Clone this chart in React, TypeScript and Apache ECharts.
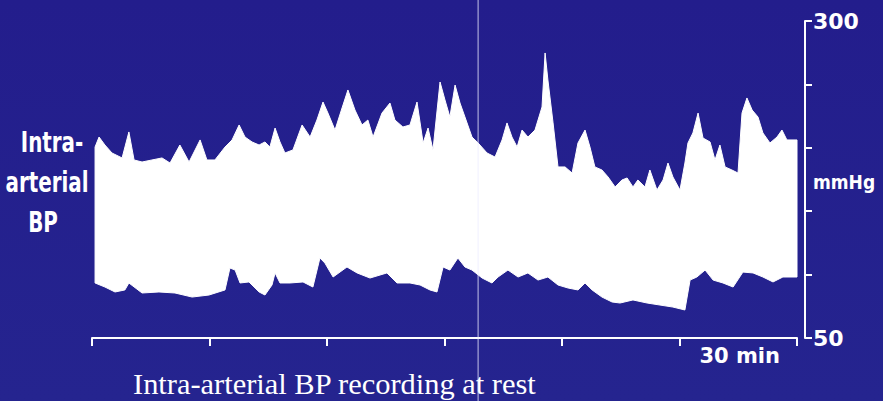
import React, { useEffect, useRef } from "react";
import * as echarts from "echarts";

// Systolic trace (upper edge of the white band): time in minutes, pressure in mmHg
const sysTime = [
  0.13, 0.3, 0.55, 0.85, 1.28, 1.57, 1.79, 2.13, 2.55, 2.98, 3.32, 3.74, 4.13, 4.6, 4.89, 5.23,
  5.66, 5.96, 6.26, 6.51, 6.81, 7.11, 7.36, 7.57, 7.79, 8.0, 8.21, 8.55, 8.94, 9.28, 9.57, 9.83,
  10.04, 10.34, 10.64, 10.89, 11.19, 11.49, 11.74, 11.96, 12.34, 12.68, 12.89, 13.23, 13.53, 13.83,
  14.09, 14.3, 14.51, 14.81, 15.02, 15.23, 15.45, 15.66, 15.87, 16.17, 16.43, 16.81, 17.15, 17.45,
  17.66, 17.87, 18.09, 18.3, 18.55, 18.85, 19.15, 19.28, 19.4, 19.62, 19.83, 20.13, 20.43, 20.68,
  20.98, 21.19, 21.4, 21.7, 21.96, 22.26, 22.55, 22.77, 23.02, 23.23, 23.53, 23.74, 24.04, 24.3,
  24.51, 24.72, 25.02, 25.23, 25.36, 25.57, 25.79, 26.0, 26.3, 26.51, 26.72, 26.94, 27.23, 27.49,
  27.66, 27.87, 28.09, 28.34, 28.55, 28.85, 29.15, 29.36, 29.57, 29.83, 30.0,
];
const sysValue = [
  200.6, 208.5, 202.2, 195.9, 192.0, 212.5, 190.4, 188.8, 190.4, 192.0, 188.0, 202.2, 188.8, 206.2, 190.4, 190.4,
  200.6, 206.2, 218.0, 208.5, 204.6, 202.2, 204.6, 200.6, 215.6, 204.6, 195.9, 198.3, 218.0, 208.5, 221.9, 236.1,
  227.4, 214.0, 231.4, 245.6, 229.8, 218.0, 221.9, 208.5, 227.4, 235.3, 221.9, 216.4, 218.0, 236.1,
  203.8, 215.6, 198.3, 251.9, 237.7, 224.3, 249.5, 235.3, 224.3, 208.5, 203.8, 195.9, 192.7, 206.2,
  219.6, 208.5, 200.6, 214.0, 208.5, 214.0, 232.2, 274.8, 253.5, 219.6, 184.9, 184.9, 180.1, 203.8,
  214.0, 200.6, 184.9, 182.5, 177.0, 169.1, 174.6, 176.2, 169.1, 174.6, 169.1, 182.5, 166.7, 174.6,
  188.0, 177.0, 166.7, 188.0, 203.8, 211.7, 227.4, 207.7, 204.6, 190.4, 202.2, 184.9, 182.5, 180.1,
  227.4, 239.3, 229.8, 224.3, 211.7, 203.8, 208.5, 214.0, 206.2, 206.2, 206.2,
];

// Diastolic trace (lower edge of the white band)
const diaTime = [
  0.13, 0.55, 0.98, 1.4, 1.57, 2.13, 2.85, 3.53, 4.26, 4.98, 5.66, 5.87, 6.09, 6.3, 6.68, 7.11,
  7.36, 7.66, 7.79, 8.0, 8.43, 8.98, 9.4, 9.7, 9.91, 10.26, 10.85, 11.28, 11.83, 12.55, 12.98,
  13.53, 13.96, 14.38, 14.68, 14.94, 15.23, 15.57, 15.87, 16.17, 16.6, 17.02, 17.28, 17.7, 18.13,
  18.55, 18.98, 19.4, 19.83, 20.26, 20.68, 20.98, 21.28, 21.7, 22.13, 22.47, 23.02, 23.62, 24.17,
  24.72, 25.23, 25.45, 25.74, 26.09, 26.43, 26.85, 27.28, 27.7, 28.13, 28.55, 28.98, 29.4, 29.83, 30.0,
];
const diaValue = [
  93.4, 90.2, 86.3, 87.9, 93.4, 85.5, 86.3, 85.5, 82.3, 83.9, 87.9, 105.2, 103.6, 93.4, 94.2, 86.3,
  83.9, 91.8, 101.3, 93.4, 93.4, 94.2, 90.2, 113.1, 109.1, 98.1, 106.0, 101.3, 97.3, 101.3, 93.4,
  93.4, 91.8, 87.9, 86.3, 106.0, 103.6, 113.1, 106.0, 103.6, 97.3, 93.4, 98.1, 103.6, 98.1,
  101.3, 95.7, 98.1, 91.8, 89.4, 87.9, 93.4, 87.9, 82.3, 78.4, 77.6, 80.0, 77.6, 76.0,
  74.4, 72.1, 95.7, 98.1, 103.6, 95.7, 93.4, 90.2, 102.0, 101.3, 98.1, 94.2, 98.1, 98.1, 98.1,
];

const yTickLabels = [50, 300];
const xMinutes = { min: 0, max: 30, step: 5 };
const yPressure = { min: 50, max: 300, step: 50 };
const markerTime = 16.43;
const axisName = "mmHg";
const xEndLabel = "30 min";
const sideLabel = ["Intra-", "arterial", "BP"];
const caption = "Intra-arterial BP recording at rest";

const W = 883;
const H = 401;

export default function App() {
  const ref = useRef<HTMLDivElement>(null);

  useEffect(() => {
    if (!ref.current) return;
    const chart = echarts.init(ref.current, null, { renderer: "svg" });
    const white = "#ffffff";
    const boldFont = "DejaVu Sans";

    const option: any = {
      animation: false,
      backgroundColor: {
        type: "linear",
        x: 0,
        y: 0,
        x2: 0,
        y2: 1,
        colorStops: [
          { offset: 0, color: "#231d8c" },
          { offset: 1, color: "#25248f" },
        ],
      },
      grid: { left: 92, right: 86, top: 21, bottom: 63, containLabel: false, outerBoundsMode: "none" },
      xAxis: {
        type: "value",
        min: xMinutes.min,
        max: xMinutes.max,
        interval: xMinutes.step,
        z: 5,
        axisLine: { show: true, onZero: false, lineStyle: { color: white, width: 2 } },
        axisTick: { show: true, inside: false, length: 8, lineStyle: { color: white, width: 2 } },
        splitLine: { show: false },
        axisLabel: {
          show: true,
          margin: 7,
          align: "right",
          padding: [0, 17, 0, 0],
          color: white,
          fontFamily: boldFont,
          fontWeight: "bold",
          fontSize: 21,
          formatter: (v: number) => (v === xMinutes.max ? xEndLabel : ""),
        },
      },
      yAxis: {
        type: "value",
        position: "right",
        offset: 8,
        min: yPressure.min,
        max: yPressure.max,
        interval: yPressure.step,
        axisLine: { show: true, onZero: false, lineStyle: { color: white, width: 2 } },
        axisTick: { show: true, inside: false, length: 7, lineStyle: { color: white, width: 2 } },
        splitLine: { show: false },
        axisLabel: {
          show: true,
          margin: 8,
          color: white,
          fontFamily: boldFont,
          fontWeight: "bold",
          fontSize: 22,
          formatter: (v: number) => (yTickLabels.indexOf(v) >= 0 ? String(v) : ""),
        },
      },
      series: [
        {
          type: "custom",
          name: "Intra-arterial BP",
          silent: true,
          z: 3,
          data: [[sysTime[0], sysValue[0]]],
          renderItem: (_params: any, api: any) => {
            const pts: number[][] = [];
            for (let i = 0; i < sysTime.length; i++) pts.push(api.coord([sysTime[i], sysValue[i]]));
            for (let i = diaTime.length - 1; i >= 0; i--) pts.push(api.coord([diaTime[i], diaValue[i]]));
            return {
              type: "polygon",
              shape: { points: pts },
              style: { fill: white, stroke: white, lineWidth: 1 },
            };
          },
        },
      ],
    };
    chart.setOption(option);

    const px = chart.convertToPixel({ xAxisIndex: 0 }, markerTime) as number;
    const midY = chart.convertToPixel({ yAxisIndex: 0 }, (yPressure.min + yPressure.max) / 2) as number;
    const axisX = (chart.convertToPixel({ xAxisIndex: 0 }, xMinutes.max) as number) + 8;
    const sideStyle = {
      fill: white,
      fontFamily: boldFont,
      fontWeight: "bold",
      fontSize: 28,
      align: "center",
      verticalAlign: "middle",
    };
    chart.setOption({
      graphic: [
        { type: "text", x: 52, y: 142, scaleX: 0.71, style: { ...sideStyle, text: sideLabel[0] } },
        { type: "text", x: 47, y: 182, scaleX: 0.71, style: { ...sideStyle, text: sideLabel[1] } },
        { type: "text", x: 43, y: 222, scaleX: 0.71, style: { ...sideStyle, text: sideLabel[2] } },
        {
          type: "text",
          x: axisX + 8,
          y: midY + 3,
          scaleX: 0.9,
          style: {
            text: axisName,
            fill: white,
            fontFamily: boldFont,
            fontWeight: "bold",
            fontSize: 19,
            align: "left",
            verticalAlign: "middle",
          },
        },
        {
          type: "text",
          x: 133,
          y: 384,
          scaleX: 1.05,
          style: {
            text: caption,
            fill: white,
            fontFamily: "Liberation Serif",
            fontSize: 29,
            align: "left",
            verticalAlign: "middle",
          },
        },
        {
          type: "line",
          z: 100,
          shape: { x1: px, y1: 0, x2: px, y2: H },
          style: { stroke: "rgba(235,235,255,0.8)", lineWidth: 1 },
        },
      ],
    });

    return () => chart.dispose();
  }, []);

  return (
    <div
      ref={ref}
      style={{ position: "absolute", left: 0, top: 0, width: W, height: H }}
    />
  );
}
